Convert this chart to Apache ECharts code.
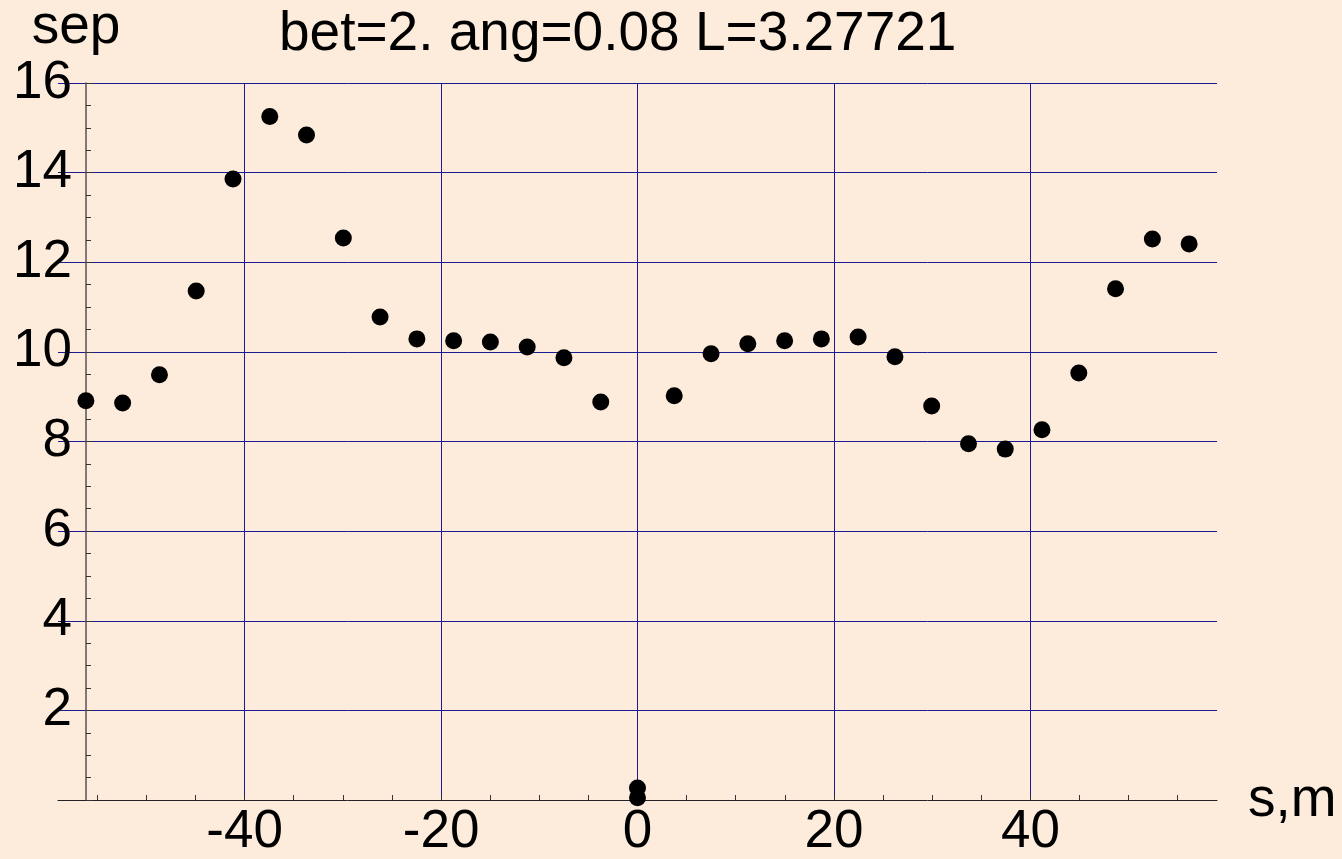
<!DOCTYPE html>
<html>
<head>
<meta charset="utf-8">
<script src="https://cdn.jsdelivr.net/npm/echarts@6/dist/echarts.min.js"></script>
<style>
  html, body { margin: 0; padding: 0; background: #fdecdc; }
  #chart { width: 1342px; height: 859px; }
</style>
</head>
<body>
<div id="chart"></div>
<script>
// s,m 坐标
var sVals = [-56.16, -52.42, -48.67, -44.93, -41.18, -37.44, -33.70, -29.95, -26.21, -22.46,
             -18.72, -14.98, -11.23, -7.49, -3.74, 0, 0, 3.74, 7.49, 11.23, 14.98, 18.72,
             22.46, 26.21, 29.95, 33.70, 37.44, 41.18, 44.93, 48.67, 52.42, 56.16];
// sep 值
var sepVals = [8.91, 8.86, 9.49, 11.36, 13.86, 15.25, 14.84, 12.54, 10.78, 10.29,
               10.25, 10.22, 10.11, 9.87, 8.88, 0.27, 0.05, 9.02, 9.96, 10.18, 10.25, 10.29,
               10.33, 9.89, 8.79, 7.95, 7.83, 8.26, 9.53, 11.41, 12.52, 12.41];
// 刻度
var xLabelVals = [-40, -20, 0, 20, 40];
var xTickVals = [-55, -50, -45, -40, -35, -30, -25, -20, -15, -10, -5, 0, 5, 10, 15, 20, 25, 30, 35, 40, 45, 50, 55];

var points = [];
for (var i = 0; i < sVals.length; i++) {
    points.push([sVals[i], sepVals[i]]);
}

var font = '"Liberation Sans", Arial, Helvetica, sans-serif';
var gridColor = '#1a1a92';

var chart = echarts.init(document.getElementById('chart'));
var option = {
    backgroundColor: '#fdecdc',
    animation: false,
    textStyle: { fontFamily: font, color: '#000' },
    title: {
        text: 'bet=2. ang=0.08 L=3.27721',
        left: 274,
        top: 2,
        textStyle: { fontFamily: font, fontSize: 55, fontWeight: 'normal', color: '#000' }
    },
    grid: { left: 58, right: 125, top: 83, bottom: 59, containLabel: false },
    xAxis: [{
        // 网格线 + 标签
        type: 'value',
        min: -59,
        max: 59,
        name: 's,m',
        nameLocation: 'end',
        nameGap: 31,
        nameTextStyle: { fontFamily: font, fontSize: 55, color: '#000', verticalAlign: 'bottom', padding: [0, 0, -28, 0] },
        axisLine: { onZero: false, lineStyle: { color: '#222', width: 1 } },
        axisTick: { show: false },
        axisLabel: {
            customValues: xLabelVals,
            fontSize: 53, color: '#000', margin: 6, fontFamily: font
        },
        splitLine: { show: true, showMinLine: false, showMaxLine: false, lineStyle: { color: gridColor, width: 1 } }
    }, {
        // 小刻度
        type: 'value',
        min: -59,
        max: 59,
        position: 'bottom',
        axisLine: { show: false, onZero: false },
        axisTick: { inside: true, length: 5, customValues: xTickVals, lineStyle: { color: '#333' } },
        axisLabel: { show: false },
        splitLine: { show: false }
    }],
    yAxis: {
        type: 'value',
        min: 0,
        max: 16,
        interval: 2,
        offset: -28,
        name: 'sep',
        nameLocation: 'end',
        nameGap: 28,
        nameTextStyle: { fontFamily: font, fontSize: 55, color: '#000', align: 'center', padding: [0, 20, 0, 0] },
        axisLine: { show: true, onZero: false, lineStyle: { color: '#555', width: 1.5 } },
        axisTick: { inside: true, length: 7, lineStyle: { color: '#333' } },
        minorTick: { show: true, splitNumber: 4, length: 5, lineStyle: { color: '#333' } },
        axisLabel: {
            fontSize: 53, color: '#000', margin: 14, fontFamily: font,
            formatter: function (v) { return v === 0 ? '' : String(v); }
        },
        splitLine: { show: true, showMinLine: false, lineStyle: { color: gridColor, width: 1 } }
    },
    series: [{
        type: 'scatter',
        symbol: 'circle',
        symbolSize: 17,
        clip: false,
        itemStyle: { color: '#000', opacity: 1 },
        data: points
    }]
};
chart.setOption(option);

window.addEventListener('resize', function () {
    chart.resize();
});
</script>
</body>
</html>
